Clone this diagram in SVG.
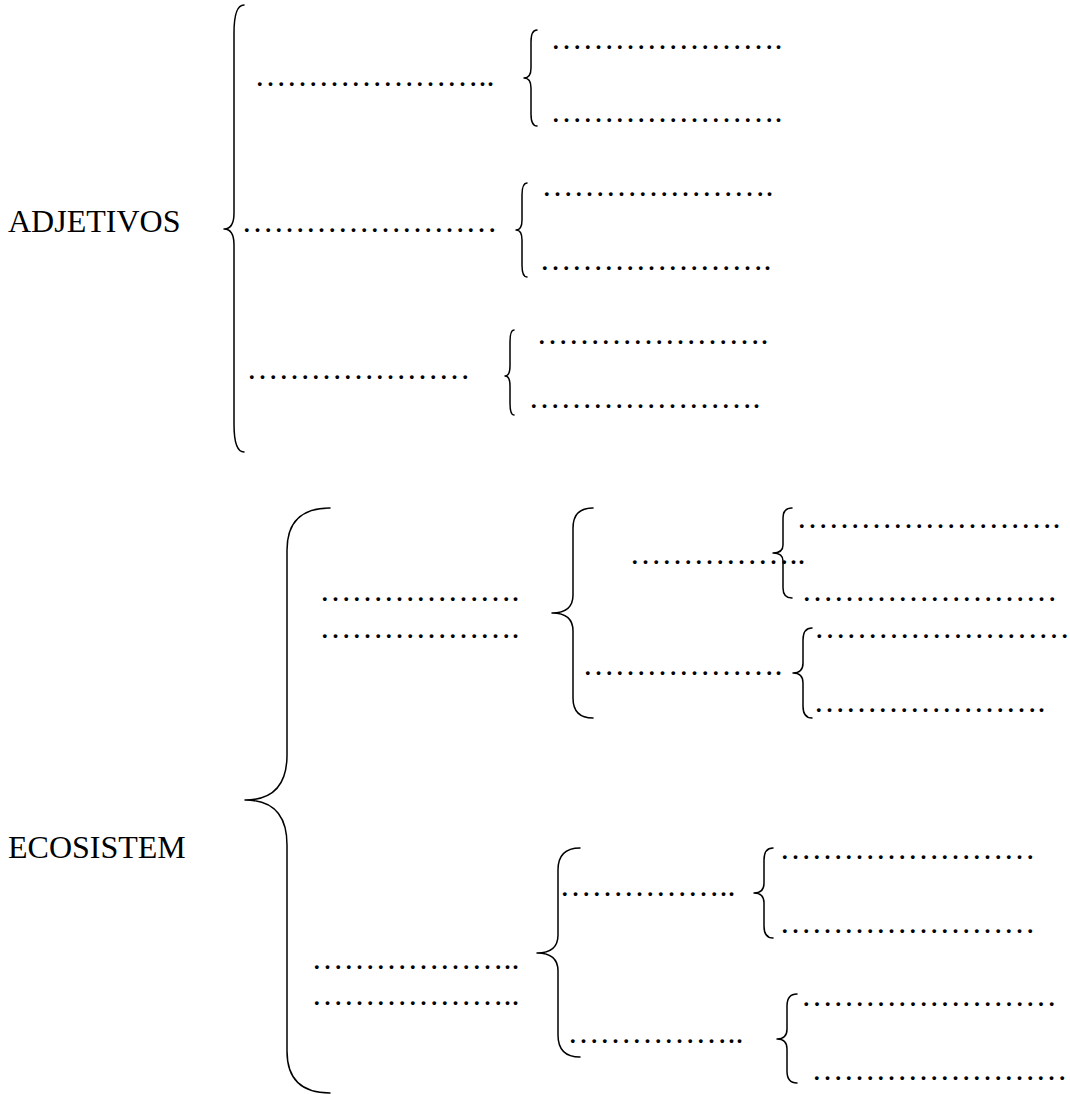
<svg xmlns="http://www.w3.org/2000/svg" width="1070" height="1094" viewBox="0 0 1070 1094">
<style>
.t{font-family:"Liberation Serif","Times New Roman",serif;font-size:32px;fill:#000}
.b{fill:none;stroke:#000;stroke-width:1.5;stroke-linecap:round;stroke-linejoin:round}
</style>
<rect width="1070" height="1094" fill="#fff"/>
<g id="connectors">
<path class="b" d="M244,5 Q234,5 234,33 L234,213 Q234,229 224,229 Q234,229 234,245 L234,424 Q234,452 244,452"/>
<path class="b" d="M537,30 Q531,30 531,42 L531,68 Q531,78 524,78 Q531,78 531,88 L531,114 Q531,126 537,126"/>
<path class="b" d="M527,183 Q522,183 522,195 L522,220 Q522,230 516,230 Q522,230 522,240 L522,265 Q522,277 527,277"/>
<path class="b" d="M514,330 Q510,330 510,342 L510,366 Q510,376 505,376 Q510,376 510,386 L510,403 Q510,415 514,415"/>
<path class="b" d="M330,508 Q287,508 287,550 L287,755 Q287,800 245,800 Q287,800 287,845 L287,1051 Q287,1093 330,1093"/>
<path class="b" d="M593,508 Q573,508 573,528 L573,595 Q573,613 552,613 Q573,613 573,631 L573,698 Q573,718 593,718"/>
<path class="b" d="M580,848 Q558,848 558,870 L558,935 Q558,953 537,953 Q558,953 558,971 L558,1035 Q558,1057 580,1057"/>
<path class="b" d="M792,508 Q783,508 783,518 L783,545 Q783,553 773,553 Q783,553 783,561 L783,588 Q783,598 792,598"/>
<path class="b" d="M812,628 Q803,628 803,640 L803,663 Q803,673 793,673 Q803,673 803,683 L803,706 Q803,718 812,718"/>
<path class="b" d="M773,848 Q764,848 764,860 L764,883 Q764,893 754,893 Q764,893 764,903 L764,926 Q764,938 773,938"/>
<path class="b" d="M797,994 Q787,994 787,1006 L787,1029 Q787,1039 777,1039 Q787,1039 787,1049 L787,1071 Q787,1083 797,1083"/>
</g>
<g id="adjetivos"><text class="t" x="8" y="232">ADJETIVOS</text></g>
<g id="adj-1"><text class="t" x="254.5" y="86">&#8230;&#8230;&#8230;&#8230;&#8230;&#8230;&#8230;..</text></g>
<g id="adj-2"><text class="t" x="241.5" y="232">&#8230;&#8230;&#8230;&#8230;&#8230;&#8230;&#8230;&#8230;</text></g>
<g id="adj-3"><text class="t" x="246.5" y="379">&#8230;&#8230;&#8230;&#8230;&#8230;&#8230;&#8230;</text></g>
<g id="adj-1a"><text class="t" x="550.5" y="49">&#8230;&#8230;&#8230;&#8230;&#8230;&#8230;&#8230;.</text></g>
<g id="adj-1b"><text class="t" x="550.5" y="122">&#8230;&#8230;&#8230;&#8230;&#8230;&#8230;&#8230;.</text></g>
<g id="adj-2a"><text class="t" x="541.5" y="196">&#8230;&#8230;&#8230;&#8230;&#8230;&#8230;&#8230;.</text></g>
<g id="adj-2b"><text class="t" x="539.5" y="270">&#8230;&#8230;&#8230;&#8230;&#8230;&#8230;&#8230;.</text></g>
<g id="adj-3a"><text class="t" x="536.5" y="344">&#8230;&#8230;&#8230;&#8230;&#8230;&#8230;&#8230;.</text></g>
<g id="adj-3b"><text class="t" x="528.5" y="408">&#8230;&#8230;&#8230;&#8230;&#8230;&#8230;&#8230;.</text></g>
<g id="ecosistem"><text class="t" x="8" y="858">ECOSISTEM</text></g>
<g id="eco-1"><text class="t" x="319.5" y="601">&#8230;&#8230;&#8230;&#8230;&#8230;&#8230;.</text><text class="t" x="319.5" y="638">&#8230;&#8230;&#8230;&#8230;&#8230;&#8230;.</text></g>
<g id="eco-2"><text class="t" x="311.5" y="969">&#8230;&#8230;&#8230;&#8230;&#8230;&#8230;..</text><text class="t" x="311.5" y="1005">&#8230;&#8230;&#8230;&#8230;&#8230;&#8230;..</text></g>
<g id="eco-1-1"><text class="t" x="629.5" y="564">&#8230;&#8230;&#8230;&#8230;&#8230;..</text></g>
<g id="eco-1-1a"><text class="t" x="796.5" y="528">&#8230;&#8230;&#8230;&#8230;&#8230;&#8230;&#8230;&#8230;.</text></g>
<g id="eco-1-1b"><text class="t" x="801.5" y="601">&#8230;&#8230;&#8230;&#8230;&#8230;&#8230;&#8230;&#8230;</text></g>
<g id="eco-1-2"><text class="t" x="582.5" y="675">&#8230;&#8230;&#8230;&#8230;&#8230;&#8230;.</text></g>
<g id="eco-1-2a"><text class="t" x="814" y="638">&#8230;&#8230;&#8230;&#8230;&#8230;&#8230;&#8230;&#8230;</text></g>
<g id="eco-1-2b"><text class="t" x="813.5" y="712">&#8230;&#8230;&#8230;&#8230;&#8230;&#8230;&#8230;.</text></g>
<g id="eco-2-1"><text class="t" x="559.5" y="896">&#8230;&#8230;&#8230;&#8230;&#8230;..</text></g>
<g id="eco-2-1a"><text class="t" x="779.5" y="859">&#8230;&#8230;&#8230;&#8230;&#8230;&#8230;&#8230;&#8230;</text></g>
<g id="eco-2-1b"><text class="t" x="779.5" y="933">&#8230;&#8230;&#8230;&#8230;&#8230;&#8230;&#8230;&#8230;</text></g>
<g id="eco-2-2"><text class="t" x="567.5" y="1043">&#8230;&#8230;&#8230;&#8230;&#8230;..</text></g>
<g id="eco-2-2a"><text class="t" x="801" y="1006">&#8230;&#8230;&#8230;&#8230;&#8230;&#8230;&#8230;&#8230;</text></g>
<g id="eco-2-2b"><text class="t" x="811.5" y="1080">&#8230;&#8230;&#8230;&#8230;&#8230;&#8230;&#8230;&#8230;</text></g>
</svg>
